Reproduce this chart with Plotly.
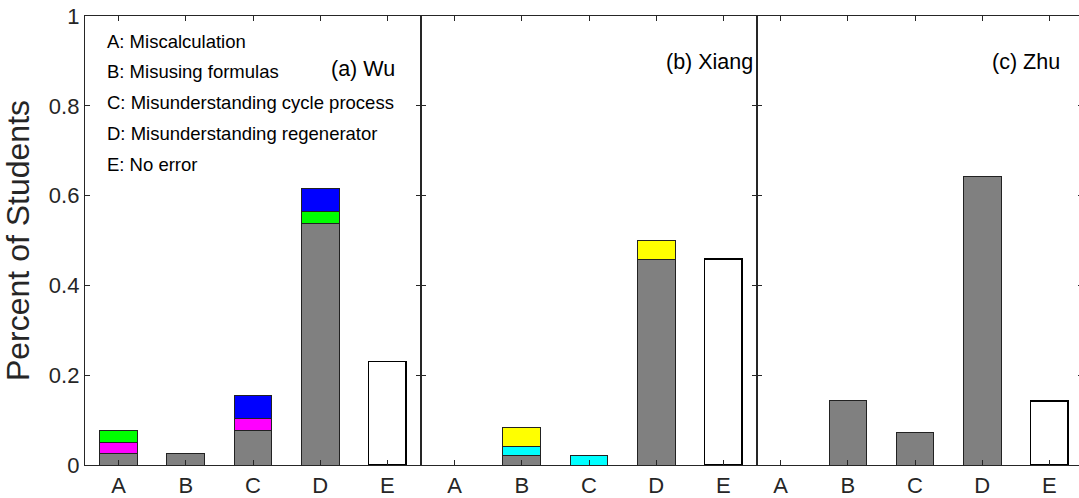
import plotly.graph_objects as go

categories = ["A", "B", "C", "D", "E"]
xpos = [1, 2, 3, 4, 5]

# Panel (a) Wu: stacked segment heights
wu_gray = [0.0256, 0.0256, 0.0769, 0.5385, None]
wu_magenta = [0.0256, None, 0.0256, None, None]
wu_green = [0.0256, None, None, 0.0256, None]
wu_blue = [None, None, 0.0513, 0.0513, None]
wu_none = [None, None, None, None, 0.2308]

# Panel (b) Xiang
xiang_gray = [None, 0.0208, None, 0.4583, None]
xiang_cyan = [None, 0.0208, 0.0208, None, None]
xiang_yellow = [None, 0.0417, None, 0.0417, None]
xiang_none = [None, None, None, None, 0.4583]

# Panel (c) Zhu
zhu_gray = [None, 0.1429, 0.0714, 0.6429, None]
zhu_none = [None, None, None, None, 0.1429]

yticks = [0, 0.2, 0.4, 0.6, 0.8, 1]
yticklabels = ["0", "0.2", "0.4", "0.6", "0.8", "1"]

legend_lines = ["A: Miscalculation", "B: Misusing formulas",
                "C: Misunderstanding cycle process",
                "D: Misunderstanding regenerator", "E: No error"]
panel_titles = ["(a) Wu", "(b) Xiang", "(c) Zhu"]

COLORS = {"gray": "#808080", "magenta": "#ff00ff", "green": "#00ff00",
          "blue": "#0000ff", "cyan": "#00ffff", "yellow": "#ffff00",
          "white": "#ffffff"}

panels = [
    [("gray", wu_gray), ("magenta", wu_magenta), ("green", wu_green),
     ("blue", wu_blue), ("white", wu_none)],
    [("gray", xiang_gray), ("cyan", xiang_cyan), ("yellow", xiang_yellow),
     ("white", xiang_none)],
    [("gray", zhu_gray), ("white", zhu_none)],
]

FONT = "Liberation Sans, Arial, Helvetica, sans-serif"
AX = "#262626"

fig = go.Figure()
for i, segs in enumerate(panels):
    xa = "x" if i == 0 else f"x{i+1}"
    ya = "y" if i == 0 else f"y{i+1}"
    for cname, vals in segs:
        fig.add_trace(go.Bar(
            x=xpos, y=vals, xaxis=xa, yaxis=ya, width=0.56,
            marker=dict(color=COLORS[cname],
                        line=dict(color="#000000" if cname == "white" else "#222222",
                                  width=1.6 if cname == "white" else 1.0)),
            showlegend=False, hoverinfo="skip"))

# the third panel runs slightly past the right edge of the window, as in the original
W, H = 1083, 498
L, R, T, B = 85, 0, 16, 33
pw, ph = W - L - R, H - T - B

def px_x(p):
    return (p - L) / pw

def px_y(p):
    return (H - B - p) / ph

doms = [[0, px_x(421)], [px_x(421), px_x(757)], [px_x(757), 1]]
ranges = [[0.5, 5.5], [0.5, 5.5], [0.647, 5.5]]

layout = dict(
    width=W, height=H, margin=dict(l=L, r=R, t=T, b=B, autoexpand=False),
    paper_bgcolor="white", plot_bgcolor="white", barmode="stack",
    font=dict(family=FONT, color="#000000"),
)
for i in range(3):
    k = "" if i == 0 else str(i + 1)
    layout["xaxis" + k] = dict(
        domain=doms[i], range=ranges[i], tickmode="array", tickvals=xpos,
        ticktext=categories, ticks="inside", ticklen=5, tickwidth=1.3,
        tickcolor=AX, showline=True, linecolor=AX, linewidth=1.3,
        mirror="ticks", showgrid=False, zeroline=False,
        ticklabeloverflow="allow", automargin=False,
        tickfont=dict(size=22, family=FONT, color="#262626"),
        anchor="y" + k if k else "y", fixedrange=True)
    layout["yaxis" + k] = dict(
        domain=[0, 1], range=[0, 1], tickmode="array", tickvals=yticks,
        ticktext=yticklabels if i == 0 else [""] * 6,
        ticks="inside", ticklen=5, tickwidth=1.3, tickcolor=AX,
        showline=True, linecolor=AX, linewidth=1.3, mirror="ticks",
        showgrid=False, zeroline=False,
        ticklabeloverflow="allow", automargin=False,
        tickfont=dict(size=22, family=FONT, color="#262626"),
        anchor="x" + k if k else "x", fixedrange=True)

layout["yaxis"]["title"] = dict(text="Percent of Students",
                                font=dict(size=32, family=FONT, color="#262626"),
                                standoff=20)

annotations = []
leg_y = [41, 71, 102, 133, 164]
for txt, py in zip(legend_lines, leg_y):
    annotations.append(dict(text=txt, xref="paper", yref="paper",
                            x=px_x(105), y=px_y(py), xanchor="left",
                            yanchor="middle", showarrow=False,
                            font=dict(size=18.5, family=FONT, color="#000000")))
title_pos = [(397, 69), (755, 62), (1062, 62)]
for txt, (pxx, pyy) in zip(panel_titles, title_pos):
    annotations.append(dict(text=txt, xref="paper", yref="paper",
                            x=px_x(pxx), y=px_y(pyy), xanchor="right",
                            yanchor="middle", showarrow=False,
                            font=dict(size=21.5, family=FONT, color="#000000")))
layout["annotations"] = annotations

fig.update_layout(**layout)
# remove the default page margin so the figure sits at the window's corner
fig.write_html("out.html", config={"displayModeBar": False},
               post_script="document.body.style.margin='0';document.body.style.overflow='hidden';")
